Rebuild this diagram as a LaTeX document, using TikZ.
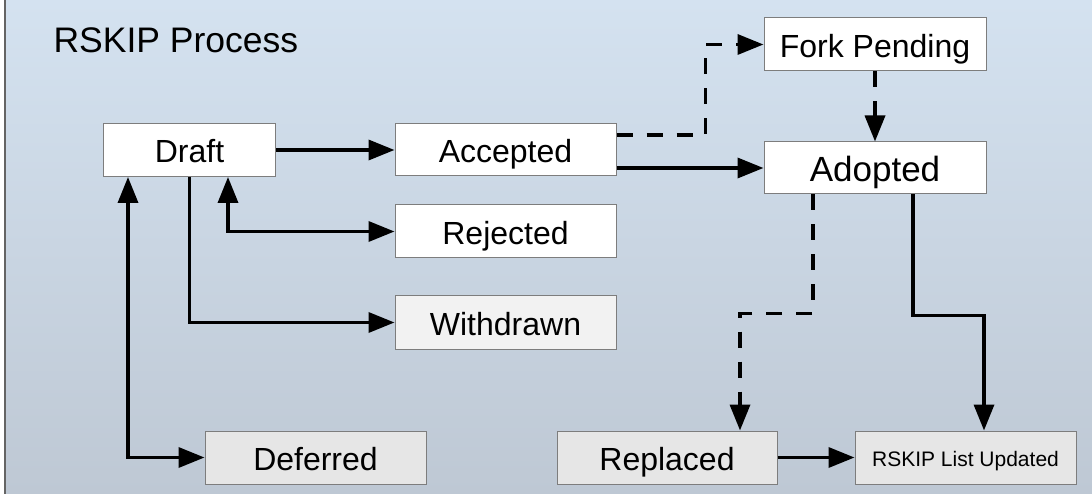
\documentclass[tikz,border=0pt]{standalone}
\usepackage{fontspec}
\setmainfont{Liberation Sans}
\usetikzlibrary{arrows.meta,positioning,calc}
\definecolor{bgtop}{RGB}{212,226,240}
\definecolor{bgbot}{RGB}{190,200,212}
\definecolor{boxgray}{RGB}{230,230,230}
\definecolor{rimgray}{RGB}{125,125,125}

\begin{document}
\begin{tikzpicture}[x=1pt,y=-1pt,
  st/.style={draw=rimgray,line width=1pt,fill=white,minimum width=221pt,minimum height=53pt,
    inner sep=0pt,align=center,text height=25.5pt,text depth=0pt,font=\fontsize{32}{38}\selectfont},
  stgray/.style={st,fill=boxgray},
  arr/.style={line width=3.5pt,-{Triangle[length=26pt,width=20pt]}},
  arrboth/.style={line width=3.5pt,{Triangle[length=26pt,width=20pt]}-{Triangle[length=26pt,width=20pt]}},
  dashline/.style={dash pattern=on 16pt off 14pt}]
\useasboundingbox (0,0) rectangle (1092,494);
\fill[white] (0,0) rectangle (1092,494);
\shade[top color=bgtop,bottom color=bgbot] (6,0) rectangle (1092,494);
\draw[rimgray!80!black,line width=2pt] (5,0) -- (5,494);
\node[anchor=base west,font=\fontsize{35.5}{42}\selectfont] (title) at (50,53) {RSKIP Process};
% states
\node[st,minimum width=172pt] (draft) at (189.5,150) {Draft};
\node[st,minimum height=52pt] (accepted) at (505.5,150) {Accepted};
\node[st] (rejected) at (505.5,231.5) {Rejected};
\node[st,fill=white!95!black] (withdrawn) at (505.5,322.5) {Withdrawn};
\node[stgray] (deferred) at (315.5,457.5) {Deferred};
\node[st,minimum width=222pt] (fork) at (875,44.5) {Fork Pending};
\node[st,minimum width=222pt,minimum height=52pt,text height=27.5pt,font=\fontsize{35}{40}\selectfont] (adopted) at (875,168) {Adopted};
\node[stgray,minimum width=220pt] (replaced) at (667,457.5) {Replaced};
\node[stgray,text height=17pt,font=\fontsize{21}{25}\selectfont] (listupd) at (965.5,457.5) {RSKIP List Updated};
% transitions
\draw[arr] (draft) -- (accepted);
\draw[arr] (accepted.east |- adopted.west) -- (adopted.west);
\draw[arr,dashline] ([yshift=15pt]accepted.east) -- ++(89,0) |- (fork.west);
\draw[arr,dashline] (fork) -- (adopted);
\draw[arr,dashline] ([xshift=-62pt]adopted.south) -- ++(0,119) -| ([xshift=73pt]replaced.north);
\draw[arr] ([xshift=38pt]adopted.south) -- ++(0,121) -| ([xshift=18.5pt]listupd.north);
\draw[arr] (replaced) -- (listupd);
\draw[arr] (draft.south) |- (withdrawn.west);
\draw[arrboth] ([xshift=38.5pt]draft.south) |- (rejected.west);
\draw[arrboth] ([xshift=-61.5pt]draft.south) |- (deferred.west);
\end{tikzpicture}
\end{document}
